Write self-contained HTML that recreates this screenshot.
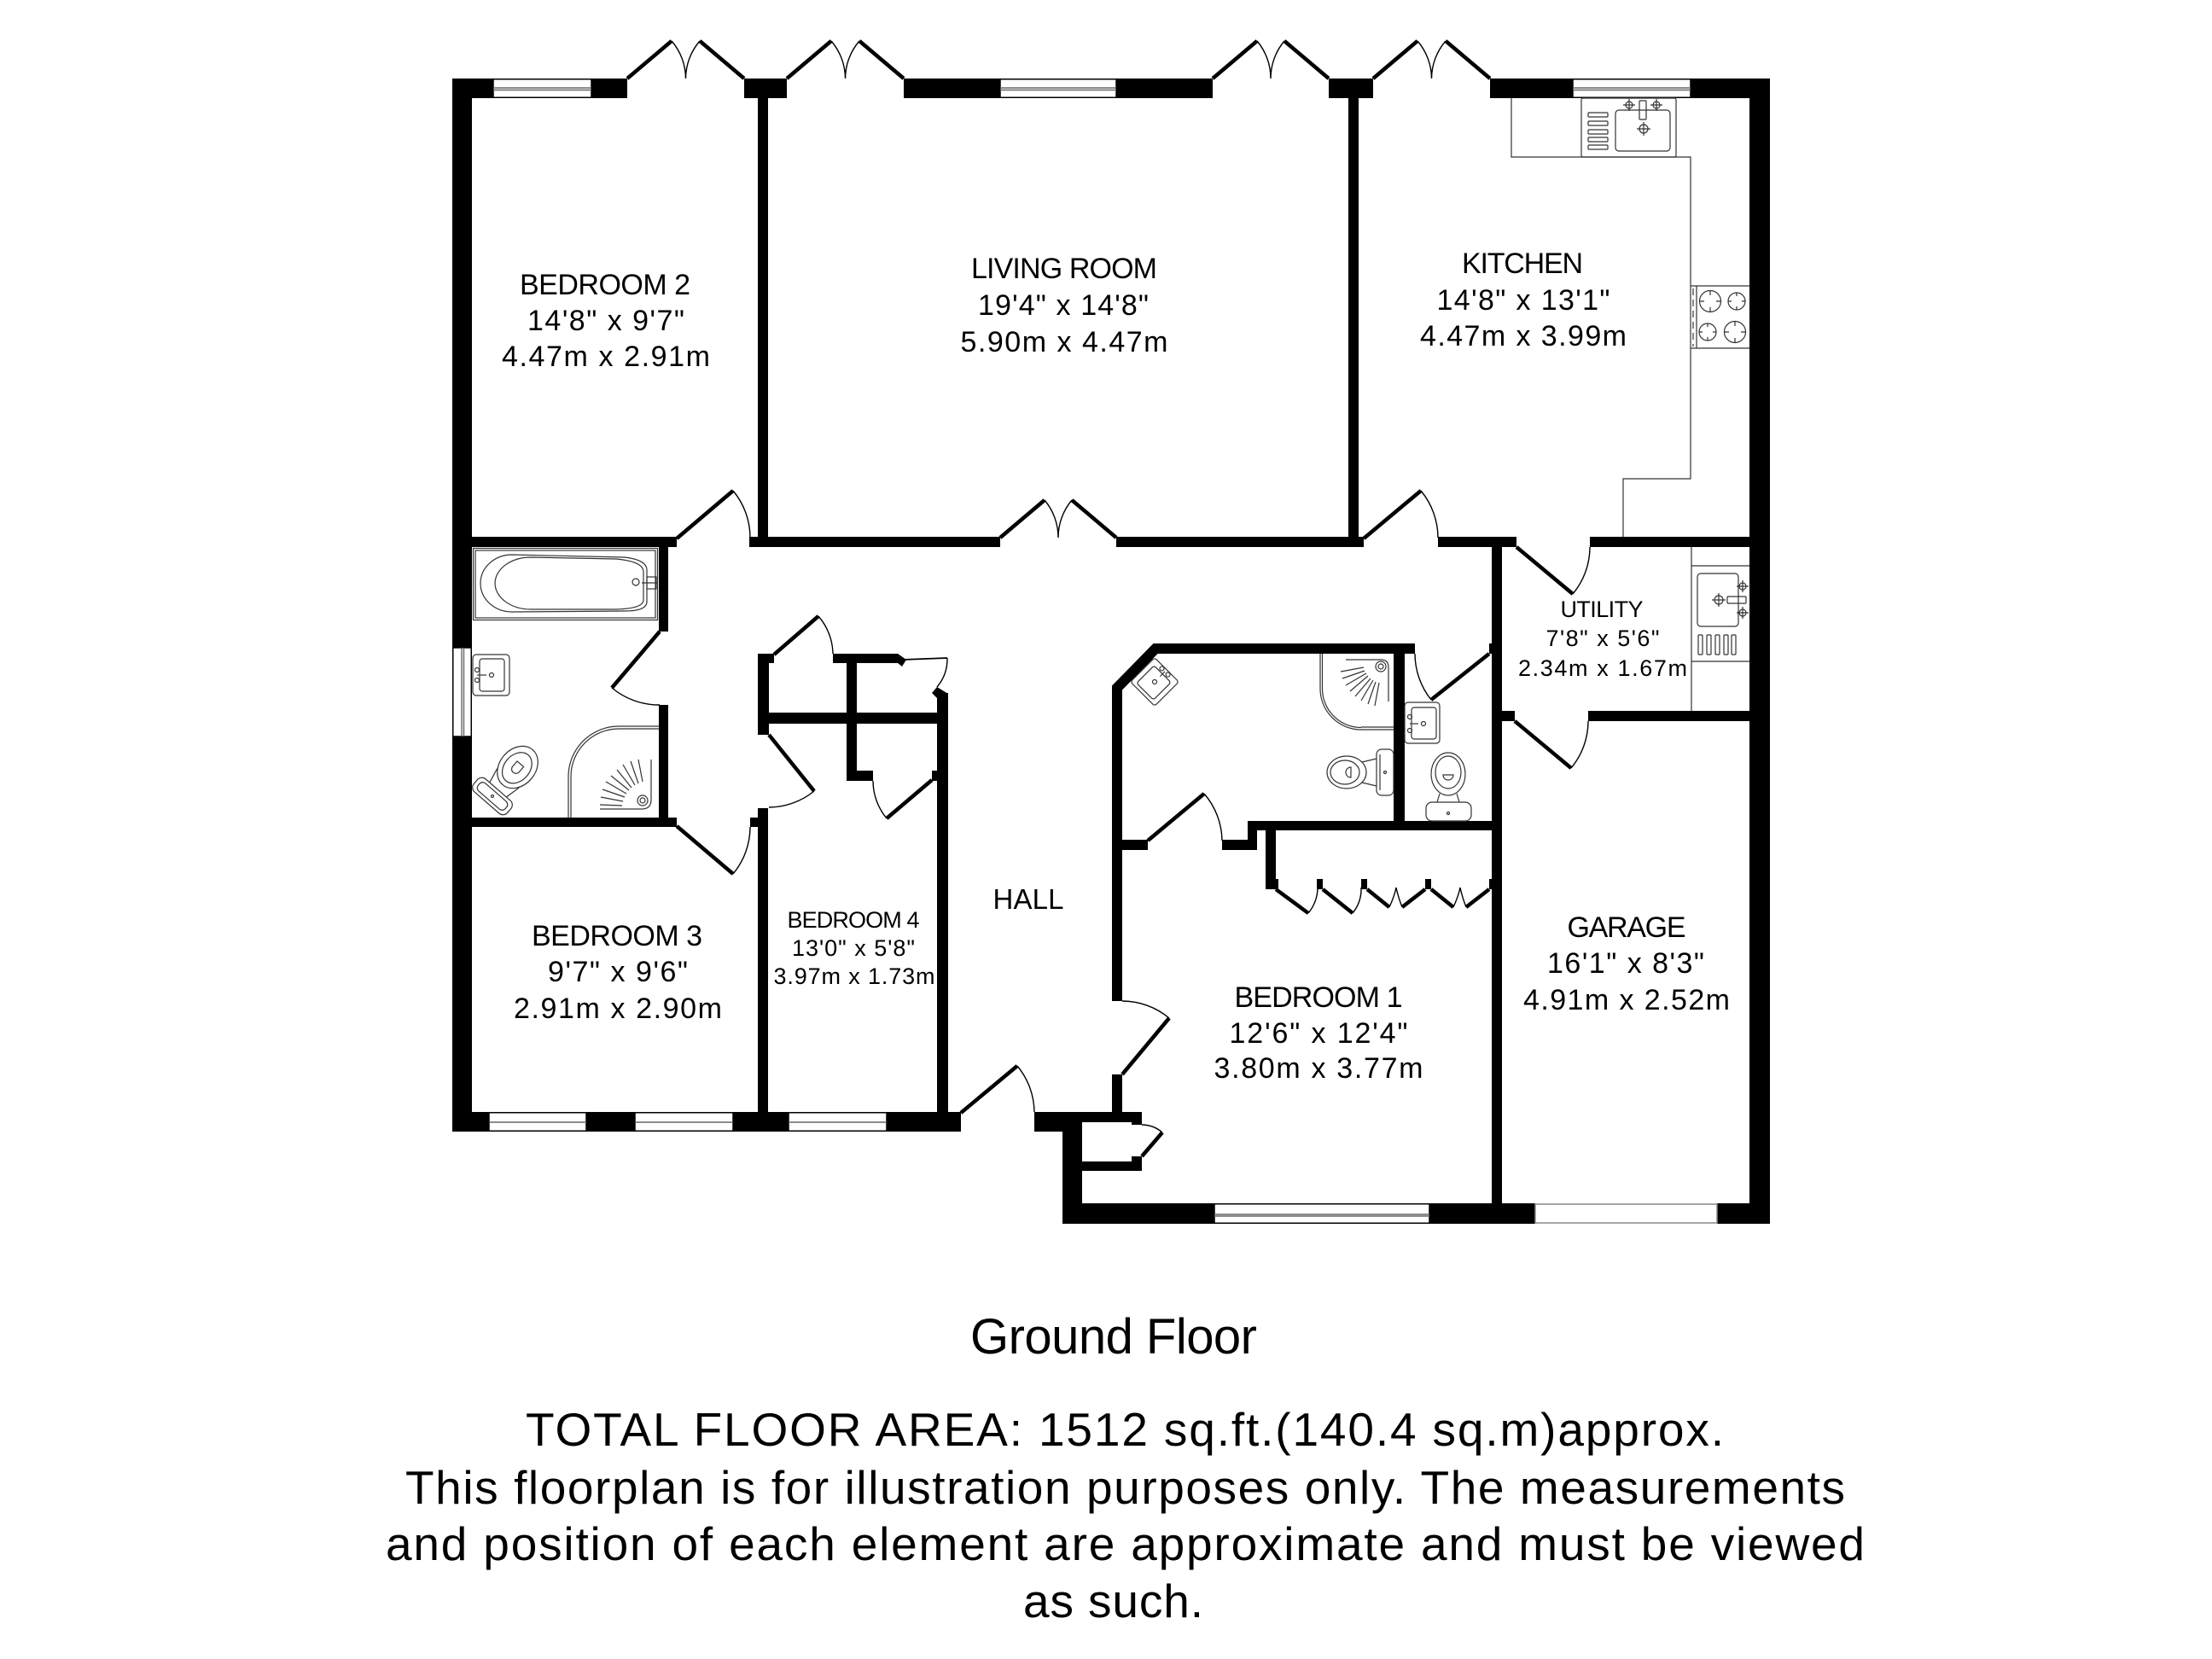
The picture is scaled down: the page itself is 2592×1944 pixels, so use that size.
<!DOCTYPE html>
<html><head><meta charset="utf-8"><style>
html,body{margin:0;padding:0;background:#fff;}
svg{display:block;}
</style></head><body>
<svg width="2592" height="1944" viewBox="0 0 2592 1944" xmlns="http://www.w3.org/2000/svg">
<rect width="2592" height="1944" fill="#fff"/>

<!-- WALLS -->
<g fill="#000">
<rect x="530" y="92" width="48" height="23"/>
<rect x="693" y="92" width="42" height="23"/>
<rect x="872" y="92" width="50" height="23"/>
<rect x="1059" y="92" width="113" height="23"/>
<rect x="1308" y="92" width="113" height="23"/>
<rect x="1557" y="92" width="52" height="23"/>
<rect x="1746" y="92" width="97" height="23"/>
<rect x="1981" y="92" width="93" height="23"/>
<rect x="2050" y="92" width="24" height="1342"/>
<rect x="530" y="92" width="23" height="667"/>
<rect x="530" y="863" width="23" height="463"/>
<rect x="530" y="1303" width="43" height="23"/>
<rect x="687" y="1303" width="57" height="23"/>
<rect x="859" y="1303" width="65" height="23"/>
<rect x="1039" y="1303" width="87" height="23"/>
<rect x="1212" y="1303" width="56" height="23"/>
<rect x="1245" y="1303" width="23" height="131"/>
<rect x="1245" y="1410" width="178" height="24"/>
<rect x="1675" y="1410" width="124" height="24"/>
<rect x="2012" y="1410" width="62" height="24"/>
<rect x="888" y="115" width="12" height="526"/>
<rect x="1580" y="115" width="12" height="526"/>
<rect x="553" y="629" width="240" height="12"/>
<rect x="878" y="629" width="294" height="12"/>
<rect x="1308" y="629" width="290" height="12"/>
<rect x="1685" y="629" width="92" height="12"/>
<rect x="1863" y="629" width="187" height="12"/>
<rect x="772" y="641" width="11" height="99"/>
<rect x="772" y="826" width="11" height="143"/>
<rect x="553" y="958" width="240" height="11"/>
<rect x="879" y="958" width="21" height="11"/>
<rect x="888" y="947" width="12" height="356"/>
<rect x="888" y="766" width="13" height="95"/>
<rect x="888" y="766" width="19" height="11"/>
<rect x="976" y="766" width="76" height="11"/>
<polygon points="1052,766 1062,773 1057,781 1052,777"/>
<rect x="1098" y="812" width="13" height="491"/>
<polygon points="1092,812 1098,805 1111,813 1111,818 1098,818"/>
<rect x="992" y="777" width="12" height="138"/>
<rect x="901" y="835" width="197" height="13"/>
<rect x="992" y="903" width="31" height="12"/>
<rect x="1092" y="903" width="19" height="12"/>
<rect x="1303" y="1259" width="12" height="44"/>
<rect x="1268" y="1303" width="70" height="12"/>
<rect x="1326" y="1303" width="12" height="15"/>
<rect x="1326" y="1355" width="12" height="17"/>
<rect x="1268" y="1361" width="70" height="11"/>
<rect x="1315" y="984" width="30" height="12"/>
<rect x="1432" y="984" width="41" height="12"/>
<rect x="1462" y="962" width="11" height="34"/>
<rect x="1462" y="962" width="298" height="11"/>
<rect x="1633" y="766" width="13" height="196"/>
<rect x="1745" y="754" width="3" height="12"/>
<rect x="1748" y="641" width="12" height="793"/>
<rect x="1760" y="833" width="15" height="12"/>
<rect x="1861" y="833" width="189" height="12"/>
<rect x="1483" y="973" width="12" height="69"/>
<rect x="1483" y="1030" width="15" height="12"/>
<rect x="1543" y="1030" width="7" height="12"/>
<rect x="1595" y="1030" width="7" height="12"/>
<rect x="1670" y="1030" width="7" height="12"/>
<rect x="1745" y="1030" width="3" height="12"/>
</g>
<polyline points="1309,1173 1309,806 1354,760 1658,760" fill="none" stroke="#000" stroke-width="12" stroke-linejoin="miter"/>

<!-- WINDOWS -->
<g fill="#fff" stroke="#000" stroke-width="1.5">
<rect x="578" y="92.75" width="115" height="21.5"/>
<rect x="1172" y="92.75" width="136" height="21.5"/>
<rect x="1843" y="92.75" width="138" height="21.5"/>
<rect x="530.75" y="759" width="21.5" height="104"/>
<rect x="573" y="1303.75" width="114" height="21.5"/>
<rect x="744" y="1303.75" width="115" height="21.5"/>
<rect x="924" y="1303.75" width="115" height="21.5"/>
<rect x="1423" y="1410.75" width="252" height="22.5"/>
</g>
<rect x="1799" y="1411" width="213" height="22" fill="#fff" stroke="#888" stroke-width="1.5"/>
<g stroke="#666" stroke-width="1.4" fill="none">
<path d="M578,103 H693 M578,105.5 H693"/>
<path d="M1172,103 H1308 M1172,105.5 H1308"/>
<path d="M1843,103 H1981 M1843,105.5 H1981"/>
<path d="M541,759 V863 M543.5,759 V863"/>
<path d="M573,1315 H687 M744,1315 H859 M924,1315 H1039"/>
<path d="M1423,1423 H1675 M1423,1425 H1675"/>
</g>

<!-- DOOR LEAVES -->
<g fill="none" stroke="#000" stroke-width="4.5" stroke-linecap="butt">
<path d="M735,92 L787,48 M872,92 L820,48 M922,92 L974,48 M1059,92 L1007,48 M1421,92 L1473,48 M1557,92 L1505,48 M1609,92 L1661,48 M1746,92 L1694,48"/>
<path d="M1172,630 L1224,586 M1308,630 L1256,586"/>
<path d="M793,631 L859,575"/>
<path d="M793,968 L859,1024"/>
<path d="M773,740 L717,806"/>
<path d="M901,861 L954,927"/>
<path d="M907,767 L959,722"/>
<path d="M1092,914 L1039,959"/>
<path d="M1598,631 L1665,575"/>
<path d="M1777,641 L1843,696"/>
<path d="M1775,845 L1841,900"/>
<path d="M1745,766 L1677,820"/>
<path d="M1345,985 L1411,930"/>
<path d="M1315,1259 L1370,1193"/>
<path d="M1126,1304 L1192,1249"/>
<path d="M1338,1355 L1362,1327"/>
<path d="M1495,1042 L1533,1070 M1550,1042 L1585,1070 M1602,1042 L1628,1063 M1643,1063 L1670,1042 M1677,1042 L1703,1063 M1718,1063 L1745,1042"/>
</g>
<path d="M1058,773 L1110,771" stroke="#000" stroke-width="1.8" fill="none"/>

<!-- DOOR ARCS -->
<g fill="none" stroke="#000" stroke-width="1.4">
<path d="M787,48 A68 68 0 0 1 803.5,92 M820,48 A68 68 0 0 0 803.5,92"/>
<path d="M974,48 A68 68 0 0 1 990.5,92 M1007,48 A68 68 0 0 0 990.5,92"/>
<path d="M1473,48 A68 68 0 0 1 1489,92 M1505,48 A68 68 0 0 0 1489,92"/>
<path d="M1661,48 A68 68 0 0 1 1677.5,92 M1694,48 A68 68 0 0 0 1677.5,92"/>
<path d="M1224,586 A68 68 0 0 1 1240,630 M1256,586 A68 68 0 0 0 1240,630"/>
<path d="M859,575 A86 86 0 0 1 879,630"/>
<path d="M859,1024 A86 86 0 0 0 879,969"/>
<path d="M717,806 A86 86 0 0 0 773,826"/>
<path d="M954,927 A85 85 0 0 1 901,946"/>
<path d="M959,722 A69 69 0 0 1 976,766"/>
<path d="M1110,771 A51 51 0 0 1 1098,805"/>
<path d="M1039,959 A69 69 0 0 1 1023,915"/>
<path d="M1665,575 A87 87 0 0 1 1685,630"/>
<path d="M1843,696 A86 86 0 0 0 1863,641"/>
<path d="M1841,900 A86 86 0 0 0 1861,845"/>
<path d="M1677,820 A87 87 0 0 1 1658,766"/>
<path d="M1411,930 A86 86 0 0 1 1432,985"/>
<path d="M1370,1193 A86 86 0 0 0 1315,1173"/>
<path d="M1192,1249 A86 86 0 0 1 1212,1303"/>
<path d="M1362,1327 A37 37 0 0 0 1338,1318"/>
<path d="M1533,1070 A48 48 0 0 0 1544,1042"/>
<path d="M1585,1070 A45 45 0 0 0 1595,1040"/>
<path d="M1628,1063 Q1634,1050 1636,1040 Q1638,1050 1643,1063"/>
<path d="M1703,1063 Q1709,1050 1711,1040 Q1713,1050 1718,1063"/>
</g>

<!-- FIXTURES -->
<g fill="none" stroke="#333" stroke-width="1.2">
<!-- kitchen -->
<path d="M1771,115 V184 H1981 V561 H1902 V629"/>
<rect x="1853" y="115" width="111" height="69" rx="2"/>
<rect x="1861" y="132" width="23" height="5" rx="1"/>
<rect x="1861" y="142" width="23" height="5" rx="1"/>
<rect x="1861" y="152" width="23" height="5" rx="1"/>
<rect x="1861" y="161" width="23" height="5" rx="1"/>
<rect x="1861" y="170" width="23" height="5" rx="1"/>
<rect x="1893" y="129" width="64" height="48" rx="4"/>
<rect x="1921" y="118" width="8" height="22" rx="1"/>
<circle cx="1909" cy="123" r="4"/><path d="M1902,123 H1916 M1909,116 V130"/>
<circle cx="1941" cy="123" r="4"/><path d="M1934,123 H1948 M1941,116 V130"/>
<circle cx="1926" cy="151" r="5"/><path d="M1918,151 H1934 M1926,143 V159"/>
<path d="M1981,335 H2050 M1981,408 H2050 M1988,335 V408"/>
<path d="M1984,338 V406" stroke-dasharray="8,5"/>
<circle cx="2004" cy="353" r="12.5"/><circle cx="2035" cy="353" r="10"/>
<circle cx="2001" cy="389" r="10"/><circle cx="2033" cy="389" r="12.5"/>
<path d="M2004,341 v5 M2004,365 v-5 M1992,353 h5 M2016,353 h-5 M2035,343 v4 M2035,363 v-4 M2025,353 h4 M2045,353 h-4 M2001,379 v4 M2001,399 v-4 M1991,389 h4 M2011,389 h-4 M2033,377 v5 M2033,401 v-5 M2021,389 h5 M2045,389 h-5"/>
<!-- utility -->
<path d="M1982,641 V833 M1982,663 H2050 M1982,775 H2050"/>
<rect x="1989" y="672" width="48" height="62" rx="4"/>
<rect x="2024" y="699" width="22" height="8" rx="1"/>
<circle cx="2042" cy="687" r="4"/><path d="M2035,687 H2049 M2042,680 V694"/>
<circle cx="2042" cy="718" r="4"/><path d="M2035,718 H2049 M2042,711 V725"/>
<circle cx="2014" cy="703" r="5"/><path d="M2006,703 H2022 M2014,695 V711"/>
<rect x="1990" y="744" width="5" height="23" rx="1"/>
<rect x="2000" y="744" width="5" height="23" rx="1"/>
<rect x="2010" y="744" width="5" height="23" rx="1"/>
<rect x="2020" y="744" width="5" height="23" rx="1"/>
<rect x="2029" y="744" width="5" height="23" rx="1"/>
<!-- bathroom bath -->
<rect x="554.5" y="642.5" width="216" height="84"/>
<rect x="557" y="645" width="211" height="79"/>
<path d="M600,650 L732,653 Q758,656 758,668 L758,705 Q758,716 732,716 L600,717 A37 33.5 0 0 1 600,650 Z"/>
<path d="M622,653 L722,655 Q754,658 754,670 L754,703 Q754,713 722,714 L622,714 A42 30.5 0 0 1 622,653 Z"/>
<circle cx="745" cy="682" r="4"/>
<rect x="758" y="676" width="11" height="14"/>
<path d="M752,683 H770"/>
<!-- bathroom sink -->
<rect x="554" y="767" width="43" height="48" rx="4"/>
<rect x="562" y="772" width="29" height="38" rx="3"/>
<circle cx="559" cy="785" r="2.5"/><circle cx="559" cy="797" r="2.5"/>
<path d="M559,791 H570"/>
<circle cx="576" cy="791" r="2.5"/>
<!-- bathroom toilet -->
<g transform="translate(577,933) rotate(41)">
<rect x="-26" y="-10" width="52" height="20" rx="7"/>
<rect x="-21" y="-6" width="42" height="12" rx="5"/>
<path d="M-13,-10 L-17,-28 M13,-10 L17,-28"/>
<ellipse cx="0" cy="-45" rx="21" ry="27"/>
<ellipse cx="0" cy="-44" rx="15" ry="20"/>
<path d="M-5,-50 h10 v8 a5,5 0 0 1 -10,0 z"/>
<circle cx="0" cy="0" r="1.5"/>
</g>
<!-- bathroom shower -->
<path d="M725,851 H772 M725,854 H772"/>
<path d="M725,851 A59 59 0 0 0 666,910 M725,854 A56 56 0 0 0 669,910"/>
<path d="M666,910 V958 M669,910 V958"/>
<path d="M703,948 H752 Q763,948 763,937 V890"/>
<circle cx="753" cy="938" r="6"/><circle cx="753" cy="938" r="3"/>
<path d="M730,939 L704,934 M732,934 L706,925 M734,930 L710,916 M737,926 L716,909 M740,923 L723,902 M744,920 L730,896 M748,918 L739,892 M753,916 L748,890 M729,944 L703,943"/>
<!-- ensuite shower -->
<path d="M1547,766 V807 M1549.5,766 V807"/>
<path d="M1547,807 A48 48 0 0 0 1595,855 M1549.5,807 A45.5 45.5 0 0 0 1595,852.5"/>
<path d="M1595,852 H1633 M1595,855 H1633"/>
<path d="M1577,773 H1618 Q1627,773 1627,782 V822"/>
<circle cx="1618" cy="781" r="6"/><circle cx="1618" cy="781" r="3"/>
<path d="M1616,800 L1611,827 M1612,799 L1603,825 M1609,797 L1595,821 M1606,795 L1588,816 M1603,792 L1582,810 M1601,789 L1577,803 M1599,786 L1573,795 M1598,782 L1571,787"/>
<!-- ensuite sink -->
<g transform="translate(1353,799) rotate(45)">
<rect x="-20" y="-20" width="40" height="40" rx="3"/>
<rect x="-14" y="-13" width="28" height="29" rx="3"/>
<circle cx="-5" cy="-17" r="2.5"/><circle cx="5" cy="-17" r="2.5"/>
<path d="M0,-17 V-9"/>
<circle cx="0" cy="0" r="2.5"/>
</g>
<!-- ensuite toilet -->
<rect x="1613" y="878" width="20" height="54" rx="6"/>
<path d="M1617,884 V926"/>
<ellipse cx="1578" cy="905" rx="23" ry="19"/>
<ellipse cx="1576" cy="905" rx="17" ry="14"/>
<path d="M1596,893 L1613,889 M1596,917 L1613,921"/>
<path d="M1583,899 v12 a6,6 0 0 1 0,-12 z"/>
<circle cx="1623" cy="905" r="1.5"/>
<!-- WC sink -->
<rect x="1646" y="823" width="41" height="48" rx="4"/>
<rect x="1654" y="829" width="29" height="37" rx="3"/>
<circle cx="1652" cy="840" r="2.5"/><circle cx="1652" cy="856" r="2.5"/>
<path d="M1652,848 H1662"/>
<circle cx="1668" cy="848" r="2.5"/>
<!-- WC toilet -->
<ellipse cx="1697" cy="907" rx="20" ry="25"/>
<ellipse cx="1697" cy="905" rx="15" ry="19"/>
<path d="M1687,930 L1684,940 M1707,930 L1710,940"/>
<rect x="1671" y="940" width="53" height="22" rx="7"/>
<path d="M1691,908 h12 a6,6 0 0 1 -12,0 z"/>
<circle cx="1697" cy="953" r="1.5"/>
</g>

<!-- LABELS -->
<g font-family="'Liberation Sans', Arial, sans-serif" fill="#000" text-anchor="middle" font-size="34">
<text x="709" y="345" textLength="200" lengthAdjust="spacing">BEDROOM 2</text>
<text x="710" y="387" textLength="184" lengthAdjust="spacing">14'8" x 9'7"</text>
<text x="710" y="429" textLength="244" lengthAdjust="spacing">4.47m x 2.91m</text>

<text x="1247" y="326" textLength="218" lengthAdjust="spacing">LIVING ROOM</text>
<text x="1246" y="369" textLength="200" lengthAdjust="spacing">19'4" x 14'8"</text>
<text x="1247" y="412" textLength="243" lengthAdjust="spacing">5.90m x 4.47m</text>

<text x="1784" y="320" textLength="142" lengthAdjust="spacing">KITCHEN</text>
<text x="1785" y="363" textLength="203" lengthAdjust="spacing">14'8" x 13'1"</text>
<text x="1785" y="405" textLength="242" lengthAdjust="spacing">4.47m x 3.99m</text>

<text x="723" y="1108" textLength="200" lengthAdjust="spacing">BEDROOM 3</text>
<text x="724" y="1150" textLength="164" lengthAdjust="spacing">9'7" x 9'6"</text>
<text x="724" y="1193" textLength="244" lengthAdjust="spacing">2.91m x 2.90m</text>

<text x="1906" y="1098" textLength="139" lengthAdjust="spacing">GARAGE</text>
<text x="1905" y="1140" textLength="184" lengthAdjust="spacing">16'1" x 8'3"</text>
<text x="1906" y="1183" textLength="242" lengthAdjust="spacing">4.91m x 2.52m</text>

<text x="1545" y="1180" textLength="197" lengthAdjust="spacing">BEDROOM 1</text>
<text x="1545" y="1222" textLength="209" lengthAdjust="spacing">12'6" x 12'4"</text>
<text x="1545" y="1263" textLength="245" lengthAdjust="spacing">3.80m x 3.77m</text>

<text x="1205" y="1065" font-size="33" textLength="83" lengthAdjust="spacing">HALL</text>
</g>
<g font-family="'Liberation Sans', Arial, sans-serif" fill="#000" text-anchor="middle" font-size="27">
<text x="1877" y="723" textLength="97" lengthAdjust="spacing">UTILITY</text>
<text x="1878" y="757" textLength="133" lengthAdjust="spacing">7'8" x 5'6"</text>
<text x="1878" y="792" textLength="198" lengthAdjust="spacing">2.34m x 1.67m</text>

<text x="1000" y="1087" textLength="155" lengthAdjust="spacing">BEDROOM 4</text>
<text x="1000" y="1120" textLength="144" lengthAdjust="spacing">13'0" x 5'8"</text>
<text x="1001" y="1153" textLength="189" lengthAdjust="spacing">3.97m x 1.73m</text>
</g>

<!-- FOOTER TEXT -->
<g font-family="'Liberation Sans', Arial, sans-serif" fill="#000">
<text x="1305" y="1586" font-size="58" text-anchor="middle" textLength="336" lengthAdjust="spacing">Ground Floor</text>
<text x="616" y="1694" font-size="55" textLength="1404" lengthAdjust="spacing">TOTAL FLOOR AREA: 1512 sq.ft.(140.4 sq.m)approx.</text>
<text x="475" y="1762" font-size="55" textLength="1687" lengthAdjust="spacing">This floorplan is for illustration purposes only. The measurements</text>
<text x="452" y="1828" font-size="55" textLength="1733" lengthAdjust="spacing">and position of each element are approximate and must be viewed</text>
<text x="1199" y="1895" font-size="55" textLength="211" lengthAdjust="spacing">as such.</text>
</g>
</svg>
</body></html>
